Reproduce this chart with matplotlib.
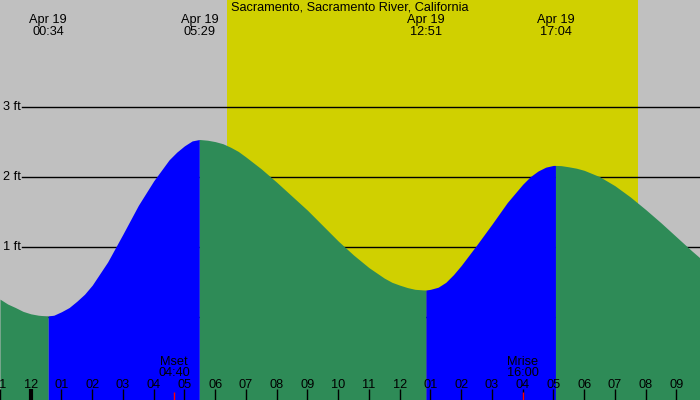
import numpy as np
import matplotlib
matplotlib.use("Agg")
import matplotlib.pyplot as plt

# Tide data, Sacramento River (hours after midnight, Apr 19)
half_hours = np.arange(-1.0, 22.01, 0.5)
heights = [0.26, 0.14, 0.05, 0.02, 0.08, 0.23, 0.46, 0.79, 1.19, 1.60,
           1.95, 2.25, 2.45, 2.54, 2.51, 2.43, 2.29, 2.12, 1.93, 1.73,
           1.53, 1.31, 1.09, 0.89, 0.71, 0.56, 0.46, 0.40, 0.40, 0.50,
           0.74, 1.03, 1.33, 1.64, 1.90, 2.09, 2.17, 2.15, 2.10, 2.01,
           1.88, 1.72, 1.54, 1.35, 1.15, 0.95, 0.76]

# extra readings around the turns of the tide
extra_hours = [-0.75, -0.25, 0.25, 0.75, 1.25, 1.75,
               4.75, 5.25, 5.75, 6.25, 6.75,
               11.75, 12.25, 12.75, 13.25, 13.75,
               16.25, 16.75, 17.25, 17.75]
extra_heights = [0.19, 0.085, 0.03, 0.03, 0.14, 0.33,
                 2.36, 2.52, 2.53, 2.48, 2.37,
                 0.50, 0.425, 0.392, 0.43, 0.61,
                 2.01, 2.145, 2.167, 2.13]

# high / low events
event_times = ["00:34", "05:29", "12:51", "17:04"]
event_heights = [0.02, 2.54, 0.39, 2.17]
event_date = "Apr 19"

sunrise = "06:23"
sunset = "19:45"

moon_labels = ["Mset", "Mrise"]
moon_times = ["04:40", "16:00"]

ft_levels = [0, 1, 2, 3]
title = "Sacramento, Sacramento River, California"

def to_hours(s):
    hh, mm = s.split(":")
    return int(hh) + int(mm) / 60.0

ev_t = [to_hours(s) for s in event_times]

# merge everything into one curve
t_all = np.concatenate([half_hours, extra_hours, ev_t])
h_all = np.concatenate([heights, extra_heights, event_heights])
order = np.argsort(t_all)
t_all = t_all[order]
h_all = h_all[order]

BLUE = "#0000ff"
GREEN = "#2e8b57"
GRAY = "#c0c0c0"
YELLOW = "#d0d000"

plt.rcParams['font.family'] = ['Liberation Sans', 'DejaVu Sans']
fs = 9.2

fig = plt.figure(figsize=(7, 4), dpi=100)
ax = fig.add_axes([0, 0, 1, 1])
ax.set_facecolor(GRAY)
x0, x1 = -0.951, 21.768
y0, y1 = -1.181, 4.533
ax.set_xlim(x0, x1)
ax.set_ylim(y0, y1)
for s in ax.spines.values():
    s.set_visible(False)

# daylight
ax.axvspan(to_hours(sunrise), to_hours(sunset), color=YELLOW, zorder=0.5, lw=0)

# ft lines + labels
for lv in ft_levels:
    ax.axhline(lv, xmin=22 / 700, xmax=1, color="black", lw=1, zorder=1)
    ax.text(x0 + 0.06, lv, f"{lv} ft", fontsize=fs, va="center", ha="left", zorder=1)

# tide fill: blue while rising, green while falling
bounds = [t_all[0]] + ev_t + [t_all[-1]]
for a, b in zip(bounds[:-1], bounds[1:]):
    m = (t_all >= a) & (t_all <= b)
    seg_h = h_all[m]
    col = BLUE if seg_h[-1] > seg_h[0] else GREEN
    ax.fill_between(t_all[m], y0, seg_h, color=col, lw=0, zorder=2)

# top labels
ax.text(350 / 700, 1 - 8 / 400, title, transform=ax.transAxes, fontsize=fs,
        ha="center", va="center", zorder=5)
for t, s in zip(ev_t, event_times):
    ax.text(t, 1 - 20 / 400, event_date, transform=ax.get_xaxis_transform(),
            fontsize=fs, ha="center", va="center", zorder=5)
    ax.text(t, 1 - 32 / 400, s, transform=ax.get_xaxis_transform(),
            fontsize=fs, ha="center", va="center", zorder=5)

# hour ticks
hours = list(range(-1, 22))
ax.set_xticks(hours)
ax.set_xticklabels([f"{(h % 12) or 12:02d}" for h in hours])
ax.tick_params(axis="x", direction="in", length=8, width=1, color="black",
               labelsize=fs, pad=-15)
ax.set_yticks([])
ax.set_axisbelow(False)
ax.xaxis.get_major_ticks()[hours.index(0)].tick1line.set_markeredgewidth(3)

# moon rise / set
for lab, s in zip(moon_labels, moon_times):
    t = to_hours(s)
    ax.vlines(t, 0, 8 / 400, transform=ax.get_xaxis_transform(), color="red",
              lw=1, zorder=4)
    ax.text(t, 38 / 400, lab, transform=ax.get_xaxis_transform(), fontsize=fs,
            ha="center", va="center", zorder=5)
    ax.text(t, 27 / 400, s, transform=ax.get_xaxis_transform(), fontsize=fs,
            ha="center", va="center", zorder=5)

fig.savefig("out.png", dpi=100)
